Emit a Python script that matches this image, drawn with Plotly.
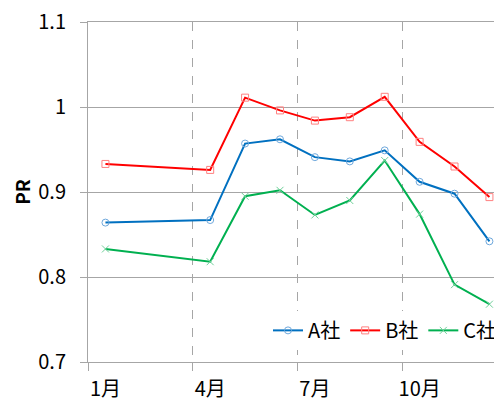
import plotly.graph_objects as go

months = [1, 4, 5, 6, 7, 8, 9, 10, 11, 12]
a_sha = [0.864, 0.867, 0.957, 0.962, 0.941, 0.936, 0.949, 0.912, 0.898, 0.842]
b_sha = [0.933, 0.926, 1.011, 0.996, 0.984, 0.988, 1.012, 0.959, 0.930, 0.894]
c_sha = [0.833, 0.818, 0.895, 0.902, 0.873, 0.890, 0.937, 0.874, 0.791, 0.768]

tick_months = [1, 4, 7, 10]
tick_labels = ["1月", "4月", "7月", "10月"]

FONT = "Noto Sans CJK JP, Noto Sans, sans-serif"
GRID = "#a6a6a6"

fig = go.Figure()
series = [
    ("A社", a_sha, "#0070C0", "#6fa8dc", "circle-open"),
    ("B社", b_sha, "#FF0000", "#ff8080", "square-open"),
    ("C社", c_sha, "#00B050", "#70d09a", "x-thin-open"),
]
for name, vals, col, mcol, sym in series:
    fig.add_trace(go.Scatter(
        x=months, y=vals, name=name, mode="lines+markers",
        line=dict(color=col, width=2),
        marker=dict(symbol=sym, size=7, color=mcol, line=dict(color=mcol, width=1)),
    ))

# the page body has an 8px margin, so the figure is 8px smaller and margins shifted
fig.update_layout(
    width=494, height=393,
    margin=dict(l=80, r=0, t=14, b=39),
    paper_bgcolor="white", plot_bgcolor="white",
    font=dict(family=FONT, size=20, color="black"),
    showlegend=True,
    legend=dict(orientation="h", x=1.0, xanchor="right", y=0.093, yanchor="middle",
                bgcolor="white", font=dict(size=20), itemwidth=30,
                tracegroupgap=0, traceorder="normal"),
    xaxis=dict(
        range=[0.5, 12.36], tickmode="array", tickvals=tick_months, ticktext=tick_labels,
        ticks="", showgrid=False, zeroline=False, automargin=False,
        showline=True, mirror=True, linecolor=GRID, linewidth=1,
        ticklabelstandoff=9, ticklabeloverflow="allow",
        minor=dict(tickmode="linear", tick0=0.5, dtick=3, ticks="outside", ticklen=8,
                   tickcolor=GRID, showgrid=True, gridcolor=GRID, griddash="dash", gridwidth=1),
    ),
    yaxis=dict(
        range=[0.7, 1.1], tickmode="array", tickvals=[0.7, 0.8, 0.9, 1.0, 1.1],
        ticktext=["0.7", "0.8", "0.9", "1", "1.1"],
        ticks="outside", ticklen=7, tickcolor=GRID, automargin=False,
        showgrid=True, gridcolor=GRID, gridwidth=1, zeroline=False,
        showline=True, linecolor=GRID, linewidth=1,
        ticklabelstandoff=10, ticklabeloverflow="allow",
        title=dict(text="<b>PR</b>", font=dict(size=19), standoff=8),
    ),
)

fig.write_html("out.html")
